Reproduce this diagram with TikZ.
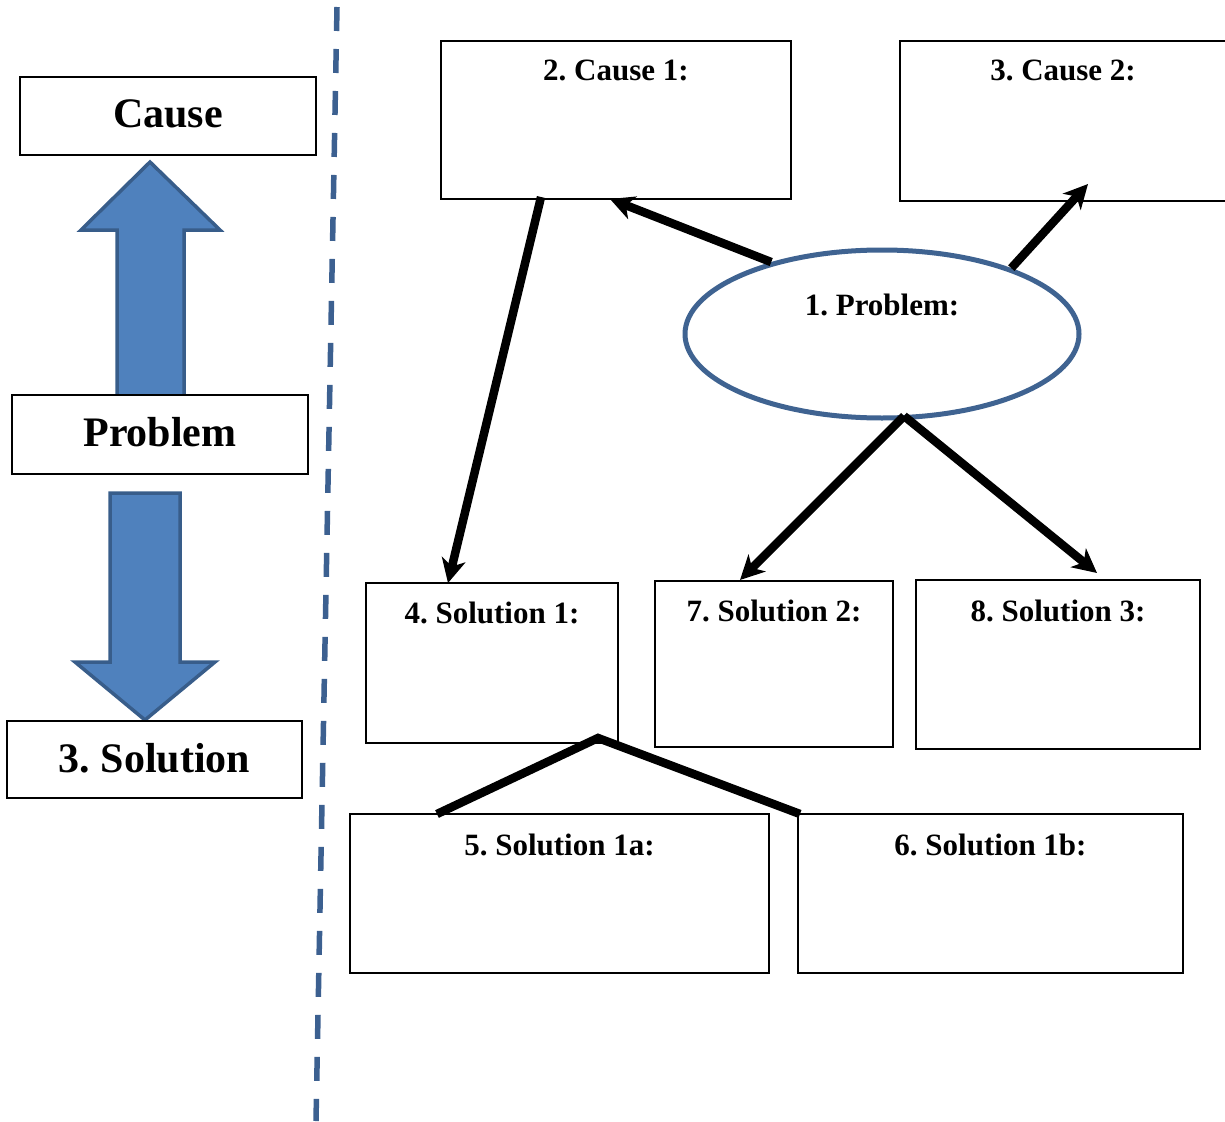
\documentclass[tikz,border=0pt]{standalone}
\usepackage{fontspec}
\setmainfont{Liberation Serif}
\frenchspacing
\usetikzlibrary{shapes.geometric,arrows.meta,calc}
\definecolor{arrowfill}{HTML}{4F81BD}
\definecolor{arrowline}{HTML}{385D8A}
\definecolor{ellline}{HTML}{3F6391}
\definecolor{dashcol}{HTML}{3C6090}
\tikzset{
 box/.style={draw=black, line width=2pt, fill=white, rectangle, inner sep=0pt, outer sep=0pt, anchor=north west},
 lbl/.style={font=\fontsize{31}{36}\selectfont\bfseries\frenchspacing, anchor=base, inner sep=0pt},
 big/.style={font=\fontsize{42}{48}\selectfont\bfseries\frenchspacing, anchor=base, inner sep=0pt},
 conn/.style={line width=8.5pt, -{Stealth[length=24pt,width=24pt,inset=7pt]}},
 plainline/.style={line width=8.5pt},
 blockarrow/.style={fill=arrowfill, draw=arrowline, line width=3.5pt, line join=miter},
}
\begin{document}
\begin{tikzpicture}[x=1pt,y=-1pt]
\useasboundingbox (0,0) rectangle (1225,1121);
% divider
\draw[dashcol, line width=5.5pt, dash pattern=on 24pt off 18pt] (337,7) -- (316,1121);
% block arrows
\draw[blockarrow] (117,396) -- (117,230) -- (81,230) -- (150,162) -- (220,230) -- (184,230) -- (184,396) -- cycle;
\draw[blockarrow] (110,493) -- (180,493) -- (180,662) -- (215,662) -- (145,720) -- (75,662) -- (110,662) -- cycle;
% left boxes
\node[box, minimum width=296pt, minimum height=78pt, label={[big,yshift=-51pt]north:Cause}] (lcause) at (20,77) {};
\node[box, minimum width=296pt, minimum height=79pt, label={[big,yshift=-51pt]north:Problem}] (lprob) at (12,395) {};
\node[box, minimum width=295pt, minimum height=77pt, label={[big,yshift=-51pt]north:3. Solution}] (lsol) at (7,721) {};
% right boxes
\node[box, minimum width=350pt, minimum height=158pt, label={[lbl,yshift=-40pt]north:2. Cause 1:}] (c1) at (441,41) {};
\node[box, minimum width=330pt, minimum height=160pt, label={[lbl,yshift=-40pt,xshift=-2pt]north:3. Cause 2:}] (c2) at (900,41) {};
\node[ellipse, draw=ellline, line width=5pt, fill=white, minimum width=394pt, minimum height=168pt, inner sep=0pt, label={[lbl,yshift=29pt]center:1. Problem:}] (prob) at (882,334) {};
\node[box, minimum width=252pt, minimum height=160pt, label={[lbl,yshift=-40pt]north:4. Solution 1:}] (s1) at (366,583) {};
\node[box, minimum width=238pt, minimum height=166pt, label={[lbl,yshift=-40pt]north:7. Solution 2:}] (s2) at (655,581) {};
\node[box, minimum width=284pt, minimum height=169pt, label={[lbl,yshift=-41pt]north:8. Solution 3:}] (s3) at (916,580) {};
\node[box, minimum width=419pt, minimum height=159pt, label={[lbl,yshift=-41pt]north:5. Solution 1a:}] (s1a) at (350,814) {};
\node[box, minimum width=385pt, minimum height=159pt, label={[lbl,yshift=-41pt]north:6. Solution 1b:}] (s1b) at (798,814) {};
% connectors
\draw[conn] (prob.147) -- ($(c1.south west)+(169,0)$);
\draw[conn] (prob.27) -- ($(c2.south west)+(188,-17)$);
\draw[conn] ($(c1.south west)+(100,-2)$) -- ($(s1.north west)+(82,0)$);
\coordinate (apex) at ($(prob.center)+(22,82)$);
\draw[conn] (apex) -- ($(s2.north west)+(85,-1)$);
\draw[conn] (apex) -- ($(s3.north west)+(181,-7)$);
\coordinate (sapex) at ($(s1.south east)+(-20,-5)$);
\draw[plainline] ($(s1a.north west)+(87,0)$) -- (sapex) -- ($(s1b.north west)+(2,0)$);
\end{tikzpicture}
\end{document}
